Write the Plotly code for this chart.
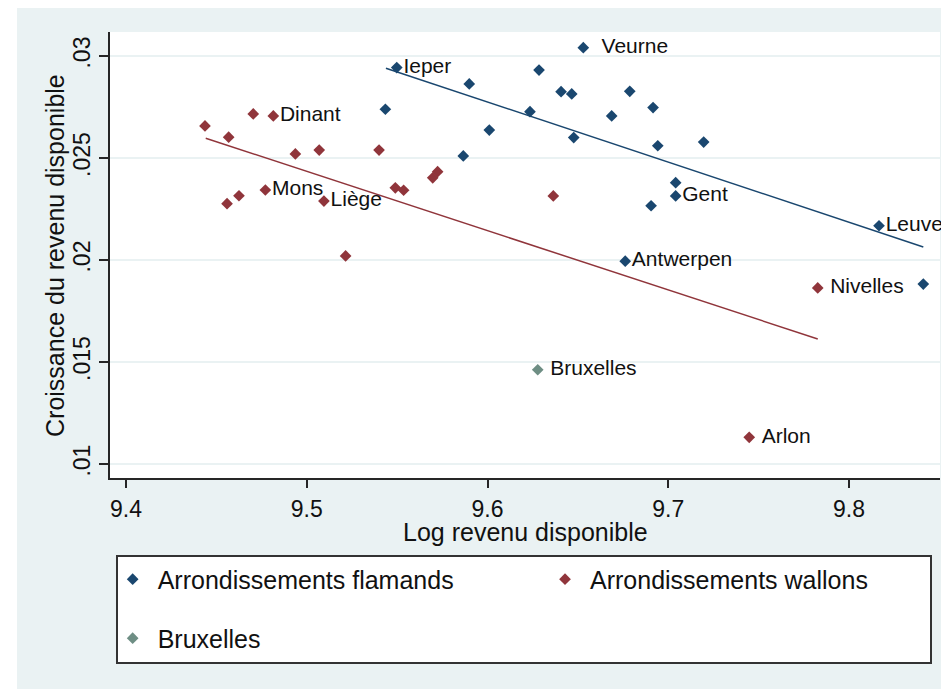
import plotly.graph_objects as go

# Arrondissements flamands
flamands_x = [9.5498, 9.5435, 9.5899, 9.5866, 9.6530, 9.6285, 9.6407, 9.6466,
              9.6787, 9.6235, 9.6916, 9.6687, 9.6010, 9.6477, 9.6942, 9.7196,
              9.7041, 9.7041, 9.6905, 9.8166, 9.6762, 9.8411]
flamands_y = [0.02943, 0.02739, 0.02863, 0.02510, 0.03041, 0.02931, 0.02825, 0.02814,
              0.02827, 0.02727, 0.02747, 0.02706, 0.02637, 0.02600, 0.02560, 0.02578,
              0.02379, 0.02314, 0.02266, 0.02168, 0.01994, 0.01882]
flamands_lab = ["Ieper", "", "", "", "Veurne", "", "", "",
                "", "", "", "", "", "", "", "",
                "", "Gent", "", "Leuven", "Antwerpen", ""]

# Arrondissements wallons
wallons_x = [9.4437, 9.4568, 9.4704, 9.4815, 9.4937, 9.5069, 9.5400, 9.4559,
             9.4625, 9.4771, 9.5095, 9.5215, 9.5490, 9.5536, 9.5697, 9.5724,
             9.6364, 9.7827, 9.7448]
wallons_y = [0.02657, 0.02602, 0.02716, 0.02706, 0.02520, 0.02539, 0.02539, 0.02276,
             0.02315, 0.02343, 0.02289, 0.02020, 0.02354, 0.02342, 0.02403, 0.02433,
             0.02314, 0.01863, 0.01131]
wallons_lab = ["", "", "", "Dinant", "", "", "", "",
               "", "Mons", "Liège", "", "", "", "", "",
               "", "Nivelles", "Arlon"]

# Bruxelles
bxl_x = [9.6278]
bxl_y = [0.01462]
bxl_lab = ["Bruxelles"]

# droites d'ajustement (lfit)
fit_fl_x = [9.5438, 9.8411]
fit_fl_y = [0.02940, 0.02064]
fit_wa_x = [9.4441, 9.7827]
fit_wa_y = [0.02597, 0.01613]

x_ticks = [9.4, 9.5, 9.6, 9.7, 9.8]
x_ticktext = ["9.4", "9.5", "9.6", "9.7", "9.8"]
y_ticks = [0.01, 0.015, 0.02, 0.025, 0.03]
y_ticktext = [".01", ".015", ".02", ".025", ".03"]

NAVY = "#1A476F"
MAROON = "#90353B"
TEAL = "#6E8E84"
BG = "#EAF2F3"
FONT = "Liberation Sans, Arial, sans-serif"

# a little extra room before some labels
label_pad = {"Veurne": 2, "Nivelles": 1, "Bruxelles": 1, "Arlon": 1}


def pad(labels):
    return ["\u00a0" * label_pad.get(s, 0) + s for s in labels]


fig = go.Figure()

fig.add_trace(go.Scatter(x=fit_fl_x, y=fit_fl_y, mode="lines",
                         line=dict(color=NAVY, width=1.5), showlegend=False,
                         hoverinfo="skip"))
fig.add_trace(go.Scatter(x=fit_wa_x, y=fit_wa_y, mode="lines",
                         line=dict(color=MAROON, width=1.5), showlegend=False,
                         hoverinfo="skip"))

for xs, ys, labs, color, name, leg in [
    (flamands_x, flamands_y, flamands_lab, NAVY, "Arrondissements flamands", "legend"),
    (wallons_x, wallons_y, wallons_lab, MAROON, "Arrondissements wallons", "legend2"),
    (bxl_x, bxl_y, bxl_lab, TEAL, "Bruxelles", "legend3"),
]:
    fig.add_trace(go.Scatter(
        x=xs, y=ys, mode="markers+text", name=name, legend=leg,
        text=pad(labs), textposition="middle right",
        textfont=dict(family=FONT, size=21, color="#111111"),
        marker=dict(symbol="diamond", size=9, color=color),
        cliponaxis=False,
    ))

# plain white strip on the left, legend box
fig.add_shape(type="rect", xref="paper", yref="paper", x0=-1, x1=-0.11205,
              y0=-1, y1=2, fillcolor="white", line_width=0, layer="below")
fig.add_shape(type="rect", xref="paper", yref="paper", x0=0.00843, x1=0.98916,
              y0=-0.4148, y1=-0.17489, fillcolor="white",
              line=dict(color="#333333", width=2), layer="below")

legend_style = dict(orientation="h", xanchor="left", yanchor="top",
                    bgcolor="rgba(0,0,0,0)", borderwidth=0, itemwidth=40,
                    font=dict(family=FONT, size=25, color="#111111"))

# axis titles
fig.add_annotation(text="Log revenu disponible", xref="paper", yref="paper",
                   x=0.5, y=-0.1215, xanchor="center", yanchor="middle",
                   showarrow=False, font=dict(size=25))
fig.add_annotation(text="Croissance du revenu disponible", xref="paper", yref="paper",
                   x=-0.0663, y=0.5, xanchor="center", yanchor="middle",
                   textangle=-90, showarrow=False, font=dict(size=25))

# the page adds an 8px body margin, so the figure is 8px smaller than the window
fig.update_layout(
    width=941, height=681,
    margin=dict(l=102, r=9, t=24, b=211),
    paper_bgcolor=BG, plot_bgcolor="white",
    font=dict(family=FONT, color="#111111"),
    showlegend=True,
    legend=dict(x=-0.0028, y=-0.1758, **legend_style),
    legend2=dict(x=0.5181, y=-0.1758, **legend_style),
    legend3=dict(x=-0.0028, y=-0.3081, **legend_style),
    xaxis=dict(
        range=[9.39115, 9.85034], tickvals=x_ticks, ticktext=x_ticktext,
        showgrid=False, zeroline=False, showline=True, linecolor="#262626",
        linewidth=2, ticks="outside", ticklen=8, tickwidth=2, tickcolor="#262626",
        tickfont=dict(size=23), ticklabelstandoff=1, automargin=False,
    ),
    yaxis=dict(
        range=[0.009314, 0.031176], tickvals=y_ticks, ticktext=y_ticktext,
        tickangle=-90, showgrid=True, gridcolor=BG, gridwidth=1.5, zeroline=False,
        showline=True, linecolor="#262626", linewidth=2, ticks="outside",
        ticklen=9, tickwidth=2, tickcolor="#262626", tickfont=dict(size=23),
        automargin=False,
    ),
)

fig.write_html("out.html")
